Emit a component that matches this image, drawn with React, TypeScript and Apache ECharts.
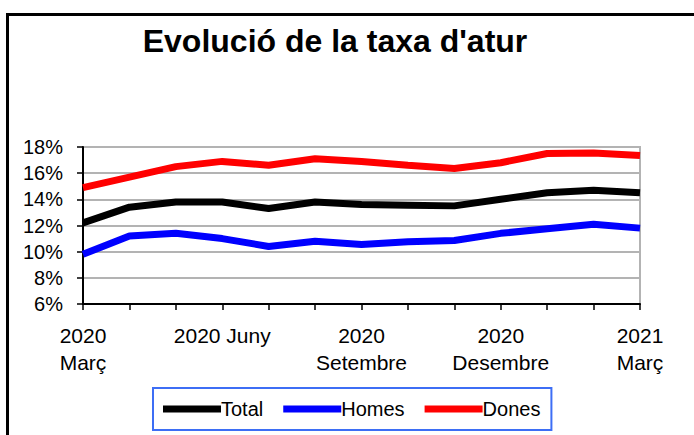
import React, { useEffect, useRef } from "react";
import * as echarts from "echarts";

const months = [
  "2020 Març", "2020 Abril", "2020 Maig", "2020 Juny", "2020 Juliol", "2020 Agost",
  "2020 Setembre", "2020 Octubre", "2020 Novembre", "2020 Desembre", "2021 Gener",
  "2021 Febrer", "2021 Març",
];
const tickLabels: Record<number, string> = {
  0: "2020\nMarç",
  3: "2020 Juny",
  6: "2020\nSetembre",
  9: "2020\nDesembre",
  12: "2021\nMarç",
};
const total = [12.2, 13.4, 13.8, 13.8, 13.3, 13.8, 13.6, 13.55, 13.5, 14.0, 14.5, 14.7, 14.5];
const homes = [9.8, 11.2, 11.4, 11.0, 10.4, 10.8, 10.55, 10.75, 10.85, 11.4, 11.75, 12.1, 11.8];
const dones = [14.9, 15.7, 16.5, 16.9, 16.6, 17.1, 16.9, 16.6, 16.35, 16.8, 17.5, 17.55, 17.35];

const FONT = "'Liberation Sans', Arial, sans-serif";

export default function App() {
  const ref = useRef<HTMLDivElement>(null);
  useEffect(() => {
    document.body.style.margin = "0";
    if (!ref.current) return;
    const chart = echarts.init(ref.current, null, { renderer: "svg" });
    chart.setOption({
      animation: false,
      backgroundColor: "#ffffff",
      textStyle: { fontFamily: FONT, color: "#000" },
      graphic: [
        {
          type: "line",
          shape: { x1: 7.5, y1: 13, x2: 7.5, y2: 435 },
          style: { stroke: "#000", lineWidth: 3 },
        },
        {
          type: "line",
          shape: { x1: 6, y1: 14.5, x2: 694, y2: 14.5 },
          style: { stroke: "#000", lineWidth: 3 },
        },
        {
          type: "text",
          x: 335,
          y: 41,
          style: {
            text: "Evolució de la taxa d'atur",
            font: `bold 32px ${FONT}`,
            fill: "#000",
            textAlign: "center",
            textVerticalAlign: "middle",
          },
        },
      ],
      legend: {
        left: 153,
        top: 388,
        padding: [10, 11, 10, 10],
        borderColor: "#3d6ef5",
        borderWidth: 2,
        itemWidth: 58,
        itemHeight: 7,
        itemGap: 20,
        icon: "rect",
        textStyle: {
          fontFamily: FONT,
          fontSize: 20,
          color: "#000",
          lineHeight: 22,
          padding: [0, 0, 0, -5],
        },
        data: ["Total", "Homes", "Dones"],
      },
      grid: {
        left: 83,
        right: 54,
        top: 147,
        bottom: 131,
        show: true,
        borderColor: "#b3b3b3",
        borderWidth: 2,
      },
      xAxis: {
        type: "category",
        data: months,
        boundaryGap: false,
        axisLine: { lineStyle: { color: "#000", width: 2 } },
        axisTick: { show: true, interval: 0, length: 6, lineStyle: { color: "#000", width: 1.5 } },
        axisLabel: {
          interval: 0,
          margin: 18,
          fontFamily: FONT,
          fontSize: 21,
          lineHeight: 27,
          color: "#000",
          formatter: (_v: string, i: number) => tickLabels[i] ?? "",
        },
        splitLine: { show: false },
      },
      yAxis: {
        type: "value",
        min: 6,
        max: 18,
        interval: 2,
        axisLine: { show: true, lineStyle: { color: "#000", width: 2 } },
        axisTick: { show: true, length: 6, lineStyle: { color: "#000", width: 1.5 } },
        axisLabel: {
          margin: 20,
          fontFamily: FONT,
          fontSize: 20,
          color: "#000",
          formatter: "{value}%",
        },
        splitLine: { show: true, lineStyle: { color: "#b3b3b3", width: 2 } },
      },
      series: [
        {
          name: "Total",
          type: "line",
          data: total,
          symbol: "none",
          color: "#000000",
          lineStyle: { width: 7, color: "#000000" },
        },
        {
          name: "Homes",
          type: "line",
          data: homes,
          symbol: "none",
          color: "#0000ff",
          lineStyle: { width: 7, color: "#0000ff" },
        },
        {
          name: "Dones",
          type: "line",
          data: dones,
          symbol: "none",
          color: "#ff0000",
          lineStyle: { width: 7, color: "#ff0000" },
        },
      ],
    });
    return () => chart.dispose();
  }, []);
  return <div ref={ref} style={{ width: 694, height: 435 }} />;
}
